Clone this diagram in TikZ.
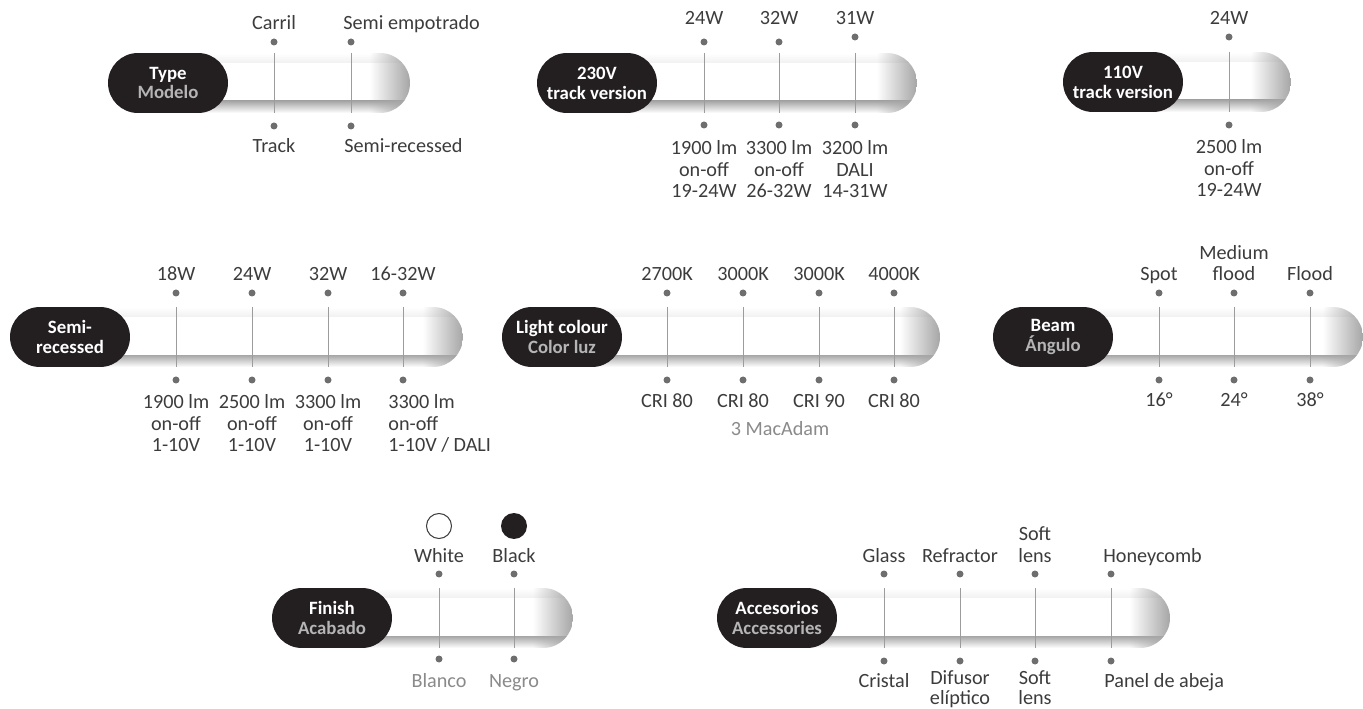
\documentclass[tikz,border=0pt]{standalone}
\usepackage{fontspec}
\setmainfont{Carlito}
\usepackage{tikz}
\usetikzlibrary{shapes.misc,fadings}

\definecolor{pillblack}{HTML}{231F20}
\definecolor{subgray}{HTML}{B5B5B5}
\definecolor{txtgray}{HTML}{3C3C3C}
\definecolor{softtxt}{HTML}{8A8A8A}
\definecolor{dotgray}{HTML}{6E6E6E}
\definecolor{linegray}{HTML}{9C9C9C}
\definecolor{shadedark}{HTML}{A6A6A6}

\tikzfading[name=capfade, left color=transparent!100, right color=transparent!0]

\begin{document}
\begin{tikzpicture}[
    x=0.02cm, y=-0.02cm,
    barbody/.style={
        rounded corners=0.6cm,
        fill=white,
        path picture={
            \shade[sharp corners, top color=white, bottom color=shadedark]
                (path picture bounding box.north west)
                rectangle ([yshift=-0.2cm]path picture bounding box.north east);
            \shade[sharp corners, top color=shadedark, bottom color=white]
                ([yshift=0.24cm]path picture bounding box.south west)
                rectangle (path picture bounding box.south east);
            \fill[sharp corners, shadedark, path fading=capfade]
                ([xshift=-0.8cm]path picture bounding box.north east)
                rectangle (path picture bounding box.south east);
        }
    },
    pill/.style={
        rounded rectangle,
        fill=pillblack,
        minimum width=2.4cm,
        minimum height=1.2cm,
        inner sep=0pt,
        text=white,
        align=center,
        font=\fontsize{10.7}{11.3}\selectfont\bfseries
    },
    divider/.style={
        draw=linegray,
        line width=0.5pt
    },
    dot/.style={
        circle,
        fill=dotgray,
        minimum size=0.14cm,
        inner sep=0pt
    },
    opt/.style={
        font=\fontsize{11.5}{12.5}\selectfont,
        text=txtgray,
        align=center,
        inner sep=0pt,
        anchor=base
    },
    optw/.style={
        opt,
        align=left,
        anchor=base west
    },
    soft/.style={
        text=softtxt
    }
]
\useasboundingbox (0,0) rectangle (1363,709);

% Type
\path[barbody] (108,53) rectangle (410,113);
\draw[divider] (274,53) -- (274,113);
\draw[divider] (351,53) -- (351,113);
\node[pill] (type) at (168,83) {Type\\\textcolor{subgray}{Modelo}};
\node[dot] (t1) at (274,42) {};
\node[dot] (t2) at (351,42) {};
\node[dot] (b1) at (274,126) {};
\node[dot] (b2) at (351,126) {};
\node[opt] (carril) at (274,30) {Carril};
\node[optw] (semiemp) at (343,30) {Semi empotrado};
\node[opt] (track) at (274,153) {Track};
\node[optw] (semirec) at (344,153) {Semi-recessed};

% 230V track version
\path[barbody] (537,53) rectangle (917,113);
\draw[divider] (704,53) -- (704,113);
\draw[divider] (779,53) -- (779,113);
\draw[divider] (855,53) -- (855,113);
\node[pill] (v230) at (597,83) {230V\\track version};
\node[dot] (vt1) at (704,42) {};
\node[dot] (vt2) at (779,42) {};
\node[dot] (vt3) at (855,37) {};
\node[dot] (vb1) at (704,125) {};
\node[dot] (vb2) at (779,125) {};
\node[dot] (vb3) at (855,125) {};
\node[opt] (w24) at (704,25) {24W};
\node[opt] (w32) at (779,25) {32W};
\node[opt] (w31) at (855,25) {31W};
\node[opt] (lm1900) at (704,198) {1900 lm\\on-off\\19-24W};
\node[opt] (lm3300) at (779,198) {3300 lm\\on-off\\26-32W};
\node[opt] (lm3200) at (855,198) {3200 lm\\DALI\\14-31W};

% 110V track version
\path[barbody] (1063,52) rectangle (1291,112);
\draw[divider] (1229,52) -- (1229,112);
\node[pill] (v110) at (1123,82) {110V\\track version};
\node[dot] (ut1) at (1229,37) {};
\node[dot] (ub1) at (1229,125) {};
\node[opt] (uw24) at (1229,25) {24W};
\node[opt] (ulm2500) at (1229,197) {2500 lm\\on-off\\19-24W};

% Semi-recessed
\path[barbody] (10,307) rectangle (463,367);
\draw[divider] (176,307) -- (176,367);
\draw[divider] (252,307) -- (252,367);
\draw[divider] (328,307) -- (328,367);
\draw[divider] (403,307) -- (403,367);
\node[pill] (semi) at (70,337) {Semi-\\recessed};
\node[dot] (st1) at (176,293) {};
\node[dot] (st2) at (252,293) {};
\node[dot] (st3) at (328,293) {};
\node[dot] (st4) at (403,293) {};
\node[dot] (sb1) at (176,380) {};
\node[dot] (sb2) at (252,380) {};
\node[dot] (sb3) at (328,380) {};
\node[dot] (sb4) at (403,380) {};
\node[opt] (sw18) at (176,281) {18W};
\node[opt] (sw24) at (252,281) {24W};
\node[opt] (sw32) at (328,281) {32W};
\node[opt] (sw1632) at (403,281) {16-32W};
\node[opt] (slm1900) at (176,452) {1900 lm\\on-off\\1-10V};
\node[opt] (slm2500) at (252,452) {2500 lm\\on-off\\1-10V};
\node[opt] (slm3300) at (328,452) {3300 lm\\on-off\\1-10V};
\node[optw] (slm3300d) at (388,452) {3300 lm\\on-off\\1-10V / DALI};

% Light colour
\path[barbody] (502,307) rectangle (940,367);
\draw[divider] (667,307) -- (667,367);
\draw[divider] (743,307) -- (743,367);
\draw[divider] (819,307) -- (819,367);
\draw[divider] (894,307) -- (894,367);
\node[pill] (colour) at (562,337) {Light colour\\\textcolor{subgray}{Color luz}};
\node[dot] (ct1) at (667,293) {};
\node[dot] (ct2) at (743,293) {};
\node[dot] (ct3) at (819,293) {};
\node[dot] (ct4) at (894,293) {};
\node[dot] (cb1) at (667,380) {};
\node[dot] (cb2) at (743,380) {};
\node[dot] (cb3) at (819,380) {};
\node[dot] (cb4) at (894,380) {};
\node[opt] (k2700) at (667,281) {2700K};
\node[opt] (k3000a) at (743,281) {3000K};
\node[opt] (k3000b) at (819,281) {3000K};
\node[opt] (k4000) at (894,281) {4000K};
\node[opt] (cri1) at (667,408) {CRI 80};
\node[opt] (cri2) at (743,408) {CRI 80};
\node[opt] (cri3) at (819,408) {CRI 90};
\node[opt] (cri4) at (894,408) {CRI 80};
\node[opt, soft] (macadam) at (780,436) {3 MacAdam};

% Beam
\path[barbody] (993,307) rectangle (1363,367);
\draw[divider] (1159,307) -- (1159,367);
\draw[divider] (1234,307) -- (1234,367);
\draw[divider] (1310,307) -- (1310,367);
\node[pill] (beam) at (1053,337) {Beam\\\textcolor{subgray}{Ángulo}};
\node[dot] (bt1) at (1159,293) {};
\node[dot] (bt2) at (1234,293) {};
\node[dot] (bt3) at (1310,293) {};
\node[dot] (bb1) at (1159,380) {};
\node[dot] (bb2) at (1234,380) {};
\node[dot] (bb3) at (1310,380) {};
\node[opt] (spot) at (1159,281) {Spot};
\node[opt] (medium) at (1234,281) {Medium\\flood};
\node[opt] (flood) at (1310,281) {Flood};
\node[opt] (deg16) at (1159,407) {16°};
\node[opt] (deg24) at (1234,407) {24°};
\node[opt] (deg38) at (1310,407) {38°};

% Finish
\path[barbody] (272,588) rectangle (573,648);
\draw[divider] (439,588) -- (439,648);
\draw[divider] (514,588) -- (514,648);
\node[pill] (finish) at (332,618) {Finish\\\textcolor{subgray}{Acabado}};
\node[circle, draw=txtgray, line width=0.6pt, fill=white, minimum size=0.5cm, inner sep=0pt] (swwhite) at (439,526) {};
\node[circle, fill=pillblack, minimum size=0.52cm, inner sep=0pt] (swblack) at (514,526) {};
\node[dot] (ft1) at (439,574) {};
\node[dot] (ft2) at (514,574) {};
\node[dot] (fb1) at (439,659) {};
\node[dot] (fb2) at (514,659) {};
\node[opt] (white) at (439,562) {White};
\node[opt] (black) at (514,562) {Black};
\node[opt, soft] (blanco) at (439,687) {Blanco};
\node[opt, soft] (negro) at (514,687) {Negro};

% Accesorios
\path[barbody] (717,588) rectangle (1170,648);
\draw[divider] (884,588) -- (884,648);
\draw[divider] (960,588) -- (960,648);
\draw[divider] (1035,588) -- (1035,648);
\draw[divider] (1111,588) -- (1111,648);
\node[pill] (acc) at (777,618) {Accesorios\\\textcolor{subgray}{Accessories}};
\node[dot] (at1) at (884,574) {};
\node[dot] (at2) at (960,574) {};
\node[dot] (at3) at (1035,574) {};
\node[dot] (at4) at (1111,574) {};
\node[dot] (ab1) at (884,661) {};
\node[dot] (ab2) at (960,661) {};
\node[dot] (ab3) at (1035,661) {};
\node[dot] (ab4) at (1111,661) {};
\node[opt] (glass) at (884,562) {Glass};
\node[opt] (refractor) at (960,562) {Refractor};
\node[opt] (softtop) at (1035,562) {Soft\\lens};
\node[optw] (honey) at (1103,562) {Honeycomb};
\node[opt] (cristal) at (884,687) {Cristal};
\node[opt] (difusor) at (960,704) {Difusor\\[-1.5pt]elíptico};
\node[opt] (softbot) at (1035,704) {Soft\\[-1.5pt]lens};
\node[optw] (panel) at (1104,687) {Panel de abeja};

\end{tikzpicture}
\end{document}
